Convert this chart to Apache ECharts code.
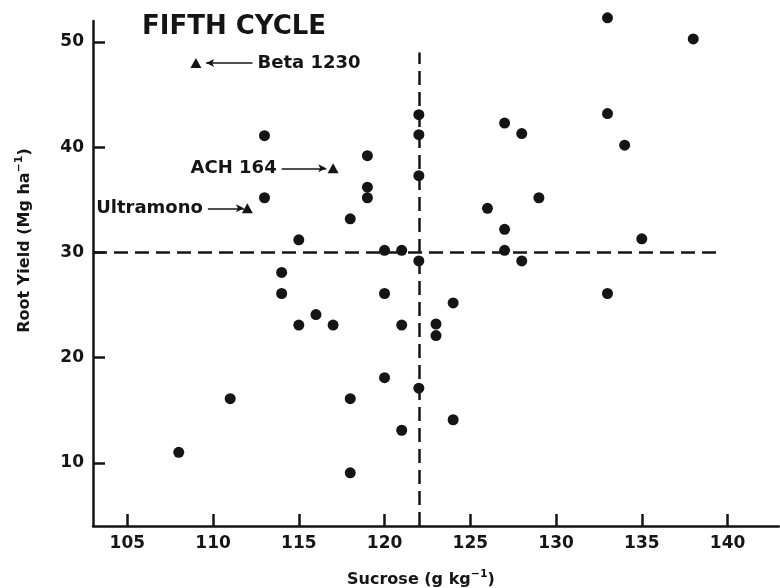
<!DOCTYPE html>
<html>
<head>
<meta charset="utf-8">
<script src="https://cdn.jsdelivr.net/npm/echarts@6/dist/echarts.min.js"></script>
<style>
html, body { margin: 0; padding: 0; background: #fff; }
#chart { width: 780px; height: 588px; }
</style>
</head>
<body>
<div id="chart"></div>
<script>
// fifth cycle: sucrose vs root yield
var sucrose = [108, 111, 113, 113, 114, 114, 115, 115, 116, 117, 118, 118, 118, 119, 119,
    119, 120, 120, 120, 121, 121, 121, 122, 122, 122, 122, 122, 123, 123, 124, 124,
    126, 127, 127, 127, 128, 128, 129, 133, 133, 133, 134, 135, 138];
var rootYield = [11.0, 16.1, 41.1, 35.2, 28.1, 26.1, 31.2, 23.1, 24.1, 23.1, 33.2, 16.1, 9.05, 39.2, 36.2,
    35.2, 30.2, 26.1, 18.1, 30.2, 23.1, 13.1, 43.1, 41.2, 37.3, 29.2, 17.1, 23.2, 22.1, 25.2, 14.1,
    34.2, 42.3, 32.2, 30.2, 41.3, 29.2, 35.2, 52.3, 43.2, 26.1, 40.2, 31.3, 50.3];

// check varieties (triangles)
var checkNames = ['Beta 1230', 'ACH 164', 'Ultramono'];
var checkSucrose = [109, 117, 112];
var checkYield = [48, 38, 34.2];
var arrowFrom = [112.3, 114.0, 109.7];
var arrowTo = [109.6, 116.6, 111.8];

var xTicks = [105, 110, 115, 120, 125, 130, 135, 140];
var yTicks = [10, 20, 30, 40, 50];

var meanSucrose = 122;
var meanYield = 30;

var ink = '#151515';
var font = 'DejaVu Sans';

var dots = sucrose.map(function (s, i) { return [s, rootYield[i]]; });
var checks = checkSucrose.map(function (s, i) { return [s, checkYield[i]]; });

var arrows = checkNames.map(function (n, i) {
    return [
        { coord: [arrowFrom[i], checkYield[i]], name: n },
        { coord: [arrowTo[i], checkYield[i]] }
    ];
});

var nameRich = {
    a: { fontSize: 16, fontWeight: 'bold', color: ink, fontFamily: font },
    s: { fontSize: 11, fontWeight: 'bold', color: ink, fontFamily: font, padding: [0, 0, 10, 0] }
};

var myChart = echarts.init(document.getElementById('chart'));

var option = {
    animation: false,
    backgroundColor: '#fff',
    textStyle: { fontFamily: font },
    title: {
        text: 'FIFTH CYCLE',
        left: 137,
        top: 9,
        textStyle: { fontSize: 26, fontWeight: 'bold', color: ink, fontFamily: font }
    },
    grid: { left: 93, right: 1, top: 21, bottom: 62, containLabel: false, outerBoundsMode: 'none' },
    xAxis: {
        type: 'value',
        min: 103,
        max: 143,
        name: '{a|Sucrose (g kg}{s|−1}{a|)}',
        nameLocation: 'middle',
        nameGap: 43,
        nameTextStyle: { padding: [0, 30, 0, 0], rich: nameRich },
        axisLine: { lineStyle: { color: ink, width: 2.5 } },
        axisTick: { inside: true, length: 12, lineStyle: { color: ink, width: 2.5 }, customValues: xTicks },
        axisLabel: { customValues: xTicks, margin: 9, fontSize: 17, fontWeight: 'bold', color: ink, fontFamily: font },
        splitLine: { show: false }
    },
    yAxis: {
        type: 'value',
        min: 4,
        max: 52,
        name: '{a|Root Yield (Mg ha}{s|−1}{a|)}',
        nameLocation: 'middle',
        nameRotate: 90,
        nameGap: 58,
        nameTextStyle: { padding: [0, 0, 0, 66], rich: nameRich },
        axisLine: { lineStyle: { color: ink, width: 2.5 } },
        axisTick: { inside: true, length: 12, lineStyle: { color: ink, width: 2.5 }, customValues: yTicks },
        axisLabel: { customValues: yTicks, margin: 9, fontSize: 17, fontWeight: 'bold', color: ink, fontFamily: font },
        splitLine: { show: false }
    },
    series: [
        {
            type: 'scatter',
            data: dots,
            symbol: 'circle',
            symbolSize: 11,
            clip: false,
            itemStyle: { color: ink, opacity: 1 },
            z: 3,
            markLine: {
                silent: true,
                symbol: 'none',
                label: { show: false },
                data: [
                    [{ coord: [103, meanYield] }, { coord: [139.7, meanYield] }],
                    [{ coord: [meanSucrose, 4] }, { coord: [meanSucrose, 49] }]
                ],
                lineStyle: { color: ink, width: 2.5, type: [14, 7], opacity: 1 }
            }
        },
        {
            type: 'scatter',
            data: checks,
            symbol: 'triangle',
            symbolSize: [11, 10],
            clip: false,
            itemStyle: { color: ink, opacity: 1 },
            z: 3,
            markLine: {
                silent: true,
                symbol: ['none', 'arrow'],
                symbolSize: [6, 8],
                lineStyle: { color: ink, width: 1.5, type: 'solid', opacity: 1 },
                label: {
                    show: true,
                    position: 'start',
                    distance: 5,
                    formatter: '{b}',
                    fontSize: 18,
                    fontWeight: 'bold',
                    color: ink,
                    fontFamily: font
                },
                data: arrows
            }
        }
    ]
};

myChart.setOption(option);
</script>
</body>
</html>
